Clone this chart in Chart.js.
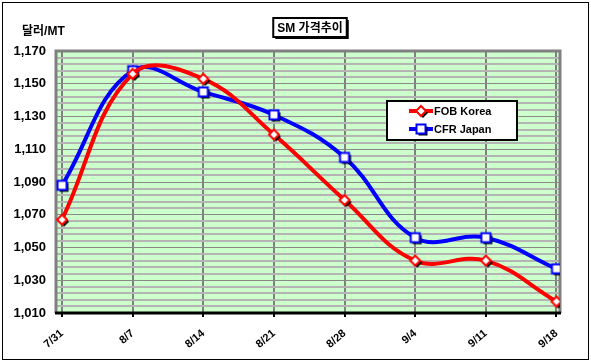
<!DOCTYPE html>
<html>
<head>
<meta charset="utf-8">
<script src="https://cdn.jsdelivr.net/npm/chart.js@4.4.1/dist/chart.umd.min.js"></script>
<style>
  html, body { margin: 0; padding: 0; background: #fff; }
  #wrap { position: relative; width: 591px; height: 363px; }
</style>
</head>
<body>
<div id="wrap"><canvas id="chart" width="591" height="363"></canvas></div>
<script>
// 데이터
const labels = ['7/31', '8/7', '8/14', '8/21', '8/28', '9/4', '9/11', '9/18'];
const fobKorea = [1067, 1156, 1153, 1119, 1079, 1042, 1042, 1017];
const cfrJapan = [1088, 1158, 1145, 1131, 1105, 1056, 1056, 1037];
const seriesNames = ['FOB Korea', 'CFR Japan'];
const yTickLabels = [1010, 1030, 1050, 1070, 1090, 1110, 1130, 1150, 1170];
const chartTitle = 'SM 가격추이';
const unitLabel = '달러/MT';

const FONT = "'Liberation Sans', Arial, 'Noto Sans CJK KR', sans-serif";

// 마커 이미지 (그림자 포함)
function makeMarker(shape, color) {
    const c = document.createElement('canvas');
    c.width = 18; c.height = 18;
    const g = c.getContext('2d');
    const path = (ox, oy) => {
        g.beginPath();
        if (shape === 'diamond') {
            g.moveTo(9 + ox, 4 + oy);
            g.lineTo(14 + ox, 9 + oy);
            g.lineTo(9 + ox, 14 + oy);
            g.lineTo(4 + ox, 9 + oy);
            g.closePath();
        } else {
            g.rect(4.5 + ox, 4.5 + oy, 9, 9);
        }
    };
    path(2, 2);
    g.fillStyle = '#000';
    g.fill();
    path(0, 0);
    g.fillStyle = '#fff';
    g.fill();
    g.lineWidth = 2;
    g.strokeStyle = color;
    g.stroke();
    return c;
}
const redMarker = makeMarker('diamond', '#ff0000');
const blueMarker = makeMarker('square', '#0000ff');

// 배경, 테두리, 제목, 범례
const decor = {
    id: 'decor',
    beforeDraw(chart) {
        const { ctx, chartArea: a } = chart;
        ctx.save();
        ctx.fillStyle = '#fff';
        ctx.fillRect(0, 0, chart.width, chart.height);
        ctx.fillStyle = '#ccffcc';
        ctx.fillRect(a.left, a.top, a.right - a.left, a.bottom - a.top);
        ctx.restore();
    },
    beforeDatasetsDraw(chart) {
        const { ctx, chartArea: a } = chart;
        ctx.save();
        ctx.strokeStyle = '#808080';
        ctx.lineWidth = 3;
        ctx.beginPath();
        ctx.moveTo(a.left, a.bottom);
        ctx.lineTo(a.left, a.top);
        ctx.lineTo(a.right, a.top);
        ctx.lineTo(a.right, a.bottom);
        ctx.stroke();
        ctx.strokeStyle = '#000';
        ctx.beginPath();
        ctx.moveTo(a.left - 1, a.bottom);
        ctx.lineTo(a.right + 1, a.bottom);
        ctx.stroke();
        ctx.restore();
    },
    afterDraw(chart) {
        const { ctx } = chart;
        ctx.save();
        // 바깥 테두리
        ctx.strokeStyle = '#000';
        ctx.lineWidth = 1;
        ctx.strokeRect(2.5, 2.5, 586, 357);

        // 단위
        ctx.fillStyle = '#000';
        ctx.font = 'bold 12px ' + FONT;
        ctx.textBaseline = 'middle';
        ctx.textAlign = 'left';
        ctx.fillText(unitLabel, 22, 32);

        // 제목 상자
        ctx.font = 'bold 12px ' + FONT;
        const tw = ctx.measureText(chartTitle).width;
        const bx = 310 - tw / 2 - 4, by = 18, bw = tw + 8, bh = 19;
        ctx.fillStyle = '#000';
        ctx.fillRect(bx + 2, by + 2, bw, bh);
        ctx.fillStyle = '#fff';
        ctx.fillRect(bx, by, bw, bh);
        ctx.lineWidth = 2;
        ctx.strokeRect(bx, by, bw, bh);
        ctx.fillStyle = '#000';
        ctx.textAlign = 'center';
        ctx.fillText(chartTitle, 310, by + bh / 2 + 1);

        // 범례
        const lx = 387, ly = 101, lw = 130, lh = 39;
        ctx.fillStyle = '#fff';
        ctx.fillRect(lx, ly, lw, lh);
        ctx.strokeStyle = '#000';
        ctx.lineWidth = 2;
        ctx.strokeRect(lx, ly, lw, lh);
        const items = [
            { name: seriesNames[0], color: '#ff0000', marker: redMarker, y: ly + 10 },
            { name: seriesNames[1], color: '#0000ff', marker: blueMarker, y: ly + 28 }
        ];
        ctx.textAlign = 'left';
        ctx.font = 'bold 11px ' + FONT;
        items.forEach(it => {
            ctx.strokeStyle = it.color;
            ctx.lineWidth = 4;
            ctx.beginPath();
            ctx.moveTo(lx + 22, it.y);
            ctx.lineTo(lx + 46, it.y);
            ctx.stroke();
            ctx.drawImage(it.marker, lx + 34 - 9, it.y - 9);
            ctx.fillStyle = '#000';
            ctx.fillText(it.name, lx + 47, it.y + 1);
        });
        ctx.restore();
    }
};

const ctx = document.getElementById('chart').getContext('2d');
new Chart(ctx, {
    type: 'line',
    data: {
        datasets: [
            {
                label: seriesNames[0],
                data: fobKorea.map((v, i) => ({ x: i, y: v })),
                borderColor: '#ff0000',
                borderWidth: 4,
                tension: 0.4,
                pointStyle: redMarker,
                pointRadius: 5
            },
            {
                label: seriesNames[1],
                data: cfrJapan.map((v, i) => ({ x: i, y: v })),
                borderColor: '#0000ff',
                borderWidth: 4,
                tension: 0.4,
                pointStyle: blueMarker,
                pointRadius: 5
            }
        ]
    },
    options: {
        responsive: false,
        animation: false,
        layout: { padding: { left: 0, right: 31, top: 51, bottom: 0 } },
        plugins: {
            legend: { display: false },
            title: { display: false },
            tooltip: { enabled: false }
        },
        scales: {
            x: {
                type: 'linear',
                min: -0.085,
                max: 7.05,
                afterBuildTicks: axis => { axis.ticks = labels.map((_, i) => ({ value: i })); },
                afterFit: axis => { axis.height = 50; },
                border: { display: false },
                grid: {
                    color: '#808080',
                    lineWidth: 2,
                    drawTicks: true,
                    tickLength: 4,
                    tickColor: '#000',
                    tickWidth: 2
                },
                ticks: {
                    autoSkip: false,
                    minRotation: 40,
                    maxRotation: 40,
                    padding: 10,
                    color: '#000',
                    font: { family: FONT, size: 11, weight: 'bold' },
                    callback: v => labels[v]
                }
            },
            y: {
                min: 1010,
                max: 1170,
                afterFit: axis => { axis.width = 56; },
                border: { display: false },
                grid: {
                    drawTicks: false,
                    color: c => (yTickLabels.includes(c.tick.value) ? '#8a8a8a' : '#b4b4b4'),
                    lineWidth: c => (yTickLabels.includes(c.tick.value) ? 1 : 2)
                },
                ticks: {
                    stepSize: 4,
                    autoSkip: false,
                    padding: 10,
                    color: '#000',
                    font: { family: FONT, size: 13, weight: 'bold' },
                    callback: v => (yTickLabels.includes(v) ? v.toLocaleString('en-US') : '')
                }
            }
        }
    },
    plugins: [decor]
});
</script>
</body>
</html>
